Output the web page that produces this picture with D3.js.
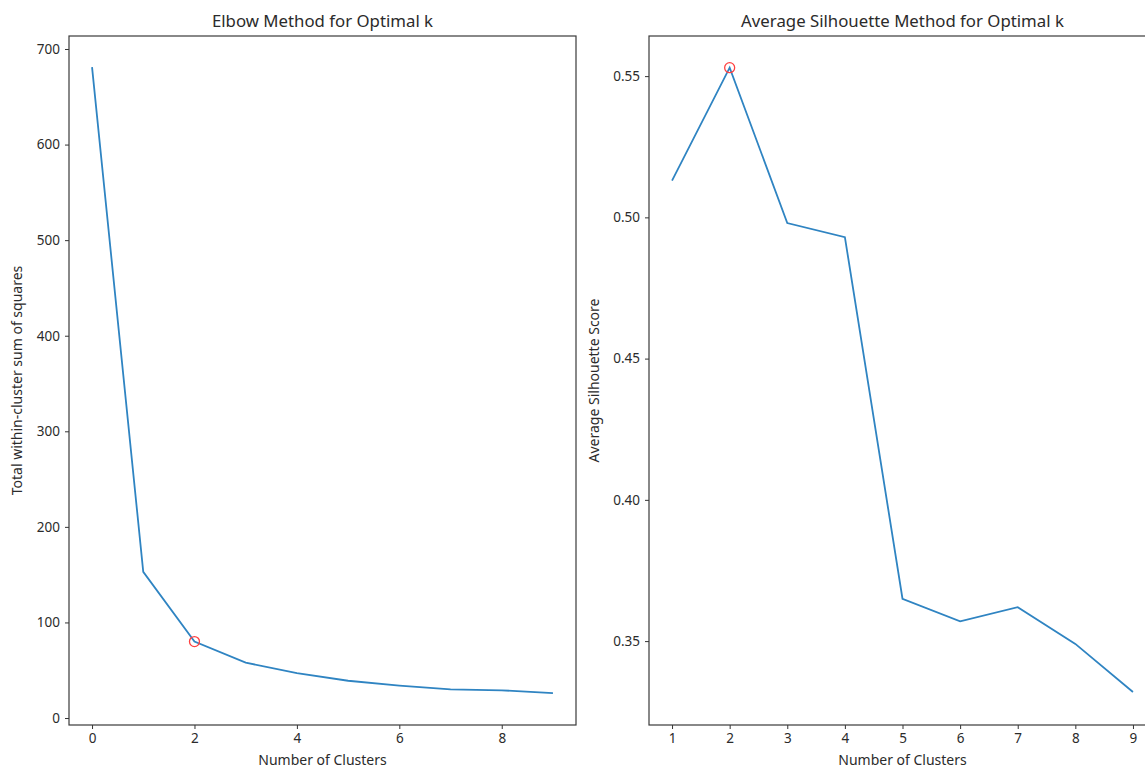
<html>
<head>
    <style>
        body { margin: 0; background: #fff; }
        text { font-family: "Noto Sans", "DejaVu Sans", sans-serif; fill: #2b2b2b; }
        .tick text { font-size: 13.5px; }
        .tick line { stroke: #333; }
        .domain { stroke: none; }
        .frame { fill: none; stroke: #3a3a3a; stroke-width: 1.2; }
        .title { font-size: 16.8px; text-anchor: middle; }
        .label { font-size: 14px; text-anchor: middle; }
    </style>
    <script src="https://d3js.org/d3.v7.min.js"></script>
</head>
<body>
    <svg width="1145" height="769"></svg>
    <script>
        // elbow panel
        var elbowK = [0, 1, 2, 3, 4, 5, 6, 7, 8, 9];
        var elbowWss = [681, 153, 80, 58, 47, 39, 34, 30, 29, 26];
        var elbowTicksX = [0, 2, 4, 6, 8];
        var elbowTicksY = [0, 100, 200, 300, 400, 500, 600, 700];

        // silhouette panel
        var silK = [1, 2, 3, 4, 5, 6, 7, 8, 9];
        var silScore = [0.513, 0.553, 0.498, 0.493, 0.365, 0.357, 0.362, 0.349, 0.332];
        var silTicksX = [1, 2, 3, 4, 5, 6, 7, 8, 9];
        var silTicksY = [0.35, 0.40, 0.45, 0.50, 0.55];

        var svg = d3.select("svg");

        function panel(opt) {
            var g = svg.append("g");
            var x = d3.scaleLinear().domain(opt.xDomain).range([opt.left, opt.right]);
            var y = d3.scaleLinear().domain(opt.yDomain).range([opt.bottom, opt.top]);

            g.append("g")
             .attr("transform", "translate(0," + opt.bottom + ")")
             .call(d3.axisBottom(x).tickValues(opt.xTicks).tickSize(4).tickPadding(4).tickFormat(d3.format("d")));

            g.append("g")
             .attr("transform", "translate(" + opt.left + ",0)")
             .call(d3.axisLeft(y).tickValues(opt.yTicks).tickSize(4).tickPadding(5).tickFormat(opt.yFormat));

            var line = d3.line()
                         .x(function(d, i) { return x(opt.xs[i]); })
                         .y(function(d) { return y(d); });

            g.append("path")
             .datum(opt.ys)
             .attr("d", line)
             .attr("fill", "none")
             .attr("stroke", "#2f84c2")
             .attr("stroke-width", 1.8);

            g.append("circle")
             .attr("cx", x(opt.xs[opt.mark]))
             .attr("cy", y(opt.ys[opt.mark]))
             .attr("r", 5)
             .attr("fill", "none")
             .attr("stroke", "#ff4040")
             .attr("stroke-width", 1.3);

            g.append("rect")
             .attr("class", "frame")
             .attr("x", opt.left)
             .attr("y", opt.top)
             .attr("width", opt.right - opt.left)
             .attr("height", opt.bottom - opt.top);

            g.append("text")
             .attr("class", "title")
             .attr("x", (opt.left + opt.right) / 2)
             .attr("y", opt.top - 9)
             .text(opt.title);

            g.append("text")
             .attr("class", "label")
             .attr("x", (opt.left + opt.right) / 2)
             .attr("y", opt.bottom + 40)
             .text(opt.xLabel);

            g.append("text")
             .attr("class", "label")
             .attr("transform", "translate(" + opt.yLabelX + "," + (opt.top + opt.bottom) / 2 + ") rotate(-90)")
             .text(opt.yLabel);
        }

        panel({
            xs: elbowK, ys: elbowWss, mark: 2,
            xDomain: [-0.45, 9.45], yDomain: [-7.3, 713.6],
            left: 69, right: 576, top: 36, bottom: 725,
            xTicks: elbowTicksX, yTicks: elbowTicksY, yFormat: d3.format("d"),
            title: "Elbow Method for Optimal k",
            xLabel: "Number of Clusters",
            yLabel: "Total within-cluster sum of squares",
            yLabelX: 22
        });

        panel({
            xs: silK, ys: silScore, mark: 1,
            xDomain: [0.6, 9.4], yDomain: [0.3203, 0.5642],
            left: 649, right: 1156, top: 36, bottom: 725,
            xTicks: silTicksX, yTicks: silTicksY, yFormat: d3.format(".2f"),
            title: "Average Silhouette Method for Optimal k",
            xLabel: "Number of Clusters",
            yLabel: "Average Silhouette Score",
            yLabelX: 599
        });
    </script>
</body>
</html>
